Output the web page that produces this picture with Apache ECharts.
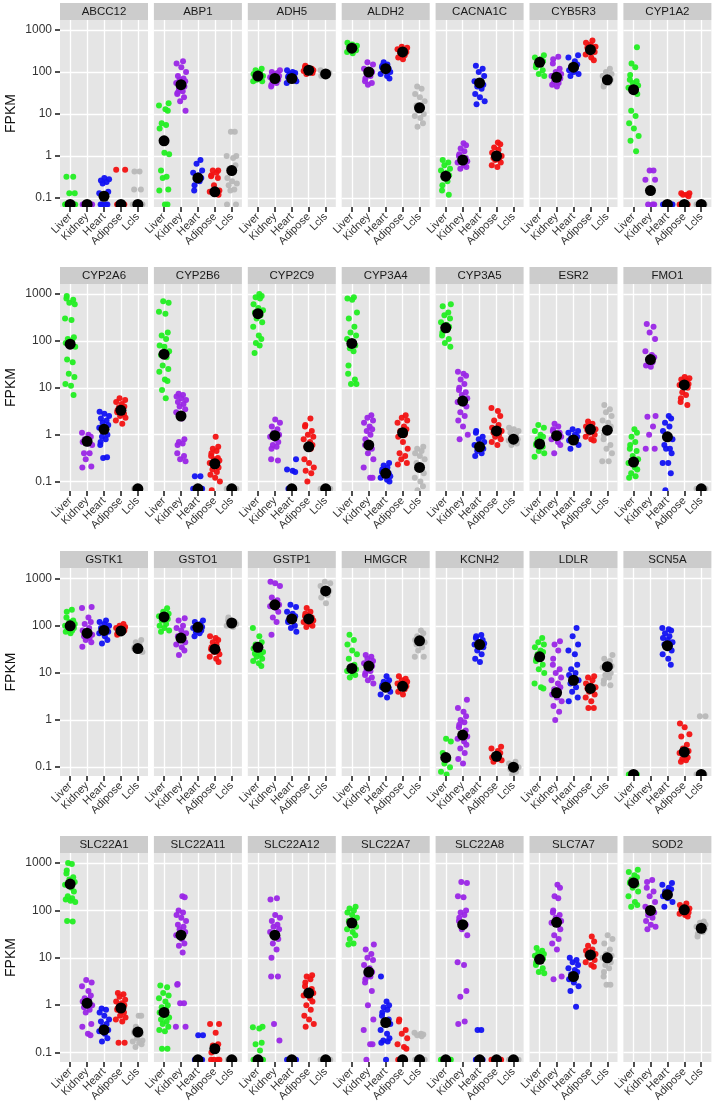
<!DOCTYPE html>
<html>
<head>
<meta charset="utf-8">
<script src="https://cdn.jsdelivr.net/npm/echarts@6/dist/echarts.min.js"></script>
<style>
html,body{margin:0;padding:0;background:#fff;}
#chart{width:713px;height:1110px;}
</style>
</head>
<body>
<div id="chart"></div>
<script>
// ---------------- DATA ----------------
const genes = ['ABCC12','ABP1','ADH5','ALDH2','CACNA1C','CYB5R3','CYP1A2',
  'CYP2A6','CYP2B6','CYP2C9','CYP3A4','CYP3A5','ESR2','FMO1',
  'GSTK1','GSTO1','GSTP1','HMGCR','KCNH2','LDLR','SCN5A',
  'SLC22A1','SLC22A11','SLC22A12','SLC22A7','SLC22A8','SLC7A7','SOD2'];
const tissues = ['Liver','Kidney','Heart','Adipose','Lcls'];
const yTickValues = [0.1, 1, 10, 100, 1000];
const yTickLabels = ['0.1', '1', '10', '100', '1000'];

// FPKM per sample (0 = not detected), one list per gene, gene order as above
const liver = [
  [0.32,0.32,0.13,0.13,0,0,0,0,0,0,0,0],
  [18,16,13,12,6,5.5,4.5,1.2,1.1,0.45,0.32,0.3,0.16,0.15,0,0],
  [120,110,100,90,85,80,75,70,65,60,60],
  [500,450,420,400,380,350,330,300,280],
  [0.8,0.7,0.6,0.5,0.45,0.4,0.35,0.3,0.25,0.2,0.15,0.12],
  [250,220,200,180,170,160,150,130,110,90,80],
  [390,160,130,85,65,60,55,48,42,36,30,12,9,6,4.5,3,2.3,1.3],
  [900,800,750,650,600,300,280,120,110,100,90,80,75,40,35,20,17,12,11,7],
  [700,650,420,380,150,130,110,80,75,60,50,45,30,25,22,15,14,9,6],
  [1000,900,850,800,600,500,450,400,350,300,250,200,130,110,90,80,55],
  [850,800,750,400,300,200,150,130,110,90,80,70,60,30,20,15,12,12],
  [600,550,400,350,300,250,220,200,180,170,150,130,110,90,75],
  [1.6,1.4,1.2,1.0,0.9,0.8,0.7,0.65,0.6,0.55,0.45,0.4,0.34],
  [1.3,1.1,0.9,0.7,0.6,0.5,0.45,0.35,0.3,0.25,0.2,0.18,0.15,0.13,0.12],
  [220,200,150,130,120,110,100,95,90,85,80,75,70],
  [235,200,180,160,150,140,130,110,100,90,80,75],
  [90,60,45,40,35,33,30,28,26,24,22,20,18,16,14],
  [65,50,40,30,25,20,15,13,12,11,10,9,8],
  [0.4,0.35,0.2,0.15,0.12,0.1,0.08,0],
  [55,45,40,35,30,28,25,22,20,18,15,12,10,6,5,4.7],
  [0,0,0,0,0,0],
  [1000,950,700,600,500,450,400,350,300,250,200,180,170,160,150,60,58],
  [2.6,2.4,1.8,1.6,1.4,1.2,1.0,0.9,0.8,0.7,0.6,0.55,0.5,0.45,0.4,0.35,0.3,0.28,0.12,0.12],
  [0.35,0.34,0.32,0.16,0.15,0.11,0,0,0,0,0],
  [120,110,100,90,80,70,60,55,50,45,40,35,30,25,20,19],
  [0,0,0,0,0,0,0,0],
  [16,14,13,12,11,10,9.5,9,8.5,8,7,6,5,4.7],
  [720,650,550,500,450,420,400,380,350,300,250,200,150,130,120]
];
const kidney = [
  [0,0,0,0,0,0,0,0,0,0],
  [180,160,130,100,80,70,65,60,55,50,45,40,35,32,30,25,20,12],
  [110,100,95,90,80,75,70,65,60,55,50,45],
  [170,150,120,110,100,90,80,70,60,55,50],
  [2.0,1.8,1.5,1.3,1.1,1.0,0.9,0.8,0.75,0.7,0.6,0.55,0.5],
  [230,200,160,120,100,90,80,75,70,60,55,50,45],
  [0.45,0.45,0.27,0.27,0.15,0,0,0],
  [1.1,1.0,0.9,0.8,0.75,0.7,0.65,0.6,0.4,0.4,0.3,0.21,0.2],
  [7.5,7,6.5,6,5.5,5,4.5,4,3.5,3,2.2,0.8,0.7,0.65,0.6,0.4,0.35,0.3,0.27],
  [2.1,1.8,1.5,1.3,1.1,1.0,0.9,0.8,0.7,0.6,0.55,0.5,0.3,0.28],
  [2.6,2.3,2.0,1.8,1.5,1.3,1.2,1.0,0.8,0.6,0.5,0.4,0.3,0.2,0.12,0.12],
  [22,20,18,15,12,10,9,8,7,6,5,4.5,4,3,2.5,2,1.5,1,0.8],
  [1.7,1.5,1.3,1.2,1.1,1.0,0.9,0.8,0.7,0.6,0.4],
  [230,200,150,110,60,50,45,40,35,30,28,2.5,2.4,1.5,1.0,0.5,0.5],
  [250,240,150,120,110,90,80,70,65,60,55,50,45,36],
  [145,130,100,90,80,70,60,55,50,45,40,35,30,24],
  [860,800,700,400,350,300,280,260,240,200,150,120,65],
  [24,22,20,18,16,15,14,12,11,10,9,8,7,6],
  [2.7,1.8,1.5,1.2,1.0,0.9,0.8,0.7,0.6,0.5,0.45,0.4,0.35,0.3,0.25,0.2,0.15,0.12],
  [47,40,30,20,15,12,10,8,7,6,5,4.5,4,3.5,3,2.5,2,1.5,1.0],
  [],
  [3.4,3.0,2.5,2.0,1.6,1.4,1.3,1.2,1.1,1.0,0.9,0.8,0.7,0.4,0.35,0.25,0.23],
  [200,190,100,90,80,70,60,50,45,40,35,30,25,20,18,13,2.8,2.7,1.1,1.1,0.35,0.35],
  [180,170,80,70,60,50,45,40,35,30,25,20,15,10,4,4,0.4,0.18],
  [19,15,12,10,9,7,6,5,4.5,4,3.5,3,2,1,0.5,0.3,0.15,0.15,0],
  [400,380,200,190,100,90,80,70,60,50,40,30,8,7,2,1.5,0.45,0.4],
  [350,300,200,180,100,90,80,70,60,55,50,40,30,25,20,15,4,3.5],
  [440,400,300,250,200,150,120,100,90,80,70,60,50,45,40]
];
const heart = [
  [0.3,0.28,0.26,0.24,0.22,0.14,0.13,0.12,0,0,0,0],
  [0.8,0.65,0.45,0.4,0.35,0.3,0.28,0.25,0.2,0.15],
  [110,100,95,90,85,80,75,70,65,60,55],
  [170,150,140,130,120,110,100,90,80,70],
  [140,120,100,80,60,55,50,45,40,30,25,20,17],
  [250,220,180,150,130,120,110,100,90,80],
  [0,0,0,0,0,0],
  [3.1,2.8,2.5,2.2,2.0,1.8,1.6,1.4,1.2,1.0,0.9,0.8,0.7,0.6,0.33,0.32],
  [0.13,0.13,0,0,0,0,0],
  [0.3,0.18,0.17,0.16,0,0,0],
  [0.25,0.22,0.2,0.18,0.16,0.15,0.14,0.13,0.12,0.11,0.1],
  [1.2,1.1,0.9,0.8,0.7,0.6,0.55,0.5,0.45,0.4,0.35],
  [1.3,1.2,1.1,1.0,0.9,0.85,0.8,0.75,0.7,0.6,0.5],
  [2.5,2.2,1.8,1.5,1.2,1.0,0.8,0.6,0.5,0.5,0.4,0.25,0.25,0.15,0.065],
  [130,120,110,100,90,85,80,75,70,60,50,42],
  [130,120,110,100,95,90,85,80,75,70,60],
  [280,250,200,180,160,150,140,130,120,100,90,75],
  [8.5,7,6.5,6,5.5,5,4.8,4.5,4,3.5,3],
  [64,60,55,50,45,42,40,38,35,30,25,20,17],
  [90,60,40,30,25,15,12,10,9,8,7,6,5,4,3,2.5],
  [90,85,80,70,60,55,50,45,40,38,35,30,25,20,15],
  [0.85,0.8,0.7,0.6,0.5,0.45,0.4,0.35,0.3,0.28,0.25,0.2,0.17],
  [0.23,0.23,0,0,0,0],
  [0,0,0,0,0],
  [4,1.2,1.0,0.9,0.8,0.7,0.6,0.5,0.45,0.4,0.3,0.25,0.2,0.18,0.17,0.16,0],
  [0.3,0.3,0,0,0,0],
  [10,9,8,7,6,5.5,5,4.5,4,3.5,3,2.5,2,0.93],
  [380,350,300,280,250,220,200,180,150,120]
];
const adipose = [
  [0.47,0.47,0,0,0,0,0,0],
  [0.45,0.45,0.4,0.35,0.33,0.3,0.2,0.15,0.14,0.13,0.12],
  [140,130,120,115,110,105,100,95,90],
  [400,380,350,320,300,280,250,220,200],
  [2.1,1.9,1.6,1.4,1.2,1.1,1.0,0.9,0.85,0.8,0.7,0.6,0.55],
  [560,500,450,400,380,350,330,300,260,220,190],
  [0.13,0.13,0.12,0.12,0.11,0,0,0,0],
  [6,5.5,5,4.5,4,3.8,3.5,3.3,3.0,2.8,2.5,2.3,2.0,1.7],
  [0.9,0.55,0.5,0.45,0.4,0.35,0.32,0.3,0.28,0.25,0.22,0.2,0.18,0.16,0.14,0.12,0.1,0.065],
  [2.2,1.6,1.5,1.2,1.0,0.9,0.8,0.7,0.6,0.55,0.5,0.3,0.25,0.2,0.17,0.15,0.1],
  [2.6,2.3,2.0,1.8,1.5,1.3,1.2,1.0,0.9,0.7,0.5,0.4,0.35,0.3,0.25,0.23],
  [3.7,3.2,2.5,2.0,1.6,1.4,1.3,1.2,1.1,1.0,0.9,0.8,0.7,0.6],
  [1.9,1.7,1.5,1.4,1.3,1.25,1.2,1.1,1.0,0.9,0.8,0.75],
  [17,16,15,14,13,12,11.5,11,10,8,7,6,5,4.3],
  [110,100,95,90,85,80,78,75,70,65],
  [60,55,50,45,40,35,32,30,28,25,22,20,17],
  [240,200,180,160,150,140,130,120,110,100,95],
  [8.5,7.5,7,6.5,6,5.5,5.2,5,4.5,4,3.5],
  [0.27,0.25,0.22,0.2,0.18,0.17,0.16,0.15,0.14,0.13],
  [8.5,8,7,6,5.5,5,4.7,4.5,4,3.5,3,2.5,1.8,1.8],
  [0.85,0.7,0.5,0.45,0.3,0.25,0.22,0.2,0.18,0.16,0.15,0.14,0.13],
  [1.8,1.7,1.5,1.3,1.2,1.1,1.0,0.95,0.9,0.85,0.8,0.7,0.6,0.55,0.5,0.45,0.16,0.16],
  [0.4,0.4,0.26,0.15,0.14,0.12,0.1,0,0,0,0],
  [4.3,4.0,3.5,3.0,2.5,2.2,2.0,1.8,1.6,1.4,1.2,1.0,0.8,0.6,0.5,0.4,0.35],
  [0.5,0.45,0.3,0.25,0.2,0.15,0.13,0.12,0,0,0],
  [0,0,0,0,0,0],
  [28,22,18,15,14,13,12,11.5,11,10,9,8,7,6.5],
  [140,130,120,110,105,100,95,90,85,80,74]
];
const lcls = [
  [0.43,0.43,0.16,0.16,0,0,0,0,0],
  [3.8,3.8,1.0,1.0,0.9,0.6,0.5,0.45,0.3,0.25,0.22,0.2,0.16,0.15,0,0],
  [110,100,95,90,85,80],
  [45,40,30,25,20,16,14,12,10,9,8,6,5],
  [],
  [120,100,90,80,70,65,60,55,50,45],
  [0,0,0,0,0,0],
  [0,0,0,0],
  [0,0,0,0,0],
  [0,0,0,0],
  [0.55,0.5,0.45,0.4,0.35,0.3,0.25,0.2,0.18,0.15,0.12,0.1,0.08,0.065],
  [1.4,1.3,1.2,1.1,1.0,0.9,0.8,0.75,0.7,0.65,0.6],
  [4.3,3.5,3,2.5,2.0,1.8,1.5,1.3,1.2,1.0,0.8,0.6,0.5,0.4,0.27,0.27],
  [0,0,0,0],
  [50,45,40,35,33,32,30,28],
  [150,130,120,115,110,100,95],
  [860,800,700,600,550,500,450,400,300],
  [80,70,60,55,50,48,45,40,35,30,22,22],
  [0.13,0.12,0.11,0.1,0.09,0.08,0.07],
  [24,20,18,15,14,13,12,10,9,8,7,6,5.5],
  [1.2,1.2,0,0,0,0],
  [0.6,0.6,0.35,0.3,0.28,0.26,0.25,0.2,0.18,0.17,0.16,0.15,0.13],
  [0,0,0,0,0],
  [0,0,0,0,0],
  [0.26,0.25,0.24,0.23,0.22,0,0,0],
  [0,0,0,0,0],
  [30,25,20,15,12,11,10,9,8,7,6,5,4,2.7,2.7],
  [58,55,50,45,42,40,38,35,32,28]
];
// medians per gene: [Liver, Kidney, Heart, Adipose, Lcls]  (null = no samples)
const medians = [
  [0,0,0.11,0,0],
  [2.3,50,0.3,0.14,0.45],
  [80,70,70,110,90],
  [370,100,120,300,14],
  [0.33,0.8,55,1.0,null],
  [170,75,130,340,65],
  [38,0.15,0,0,0],
  [85,0.72,1.3,3.3,0],
  [52,2.5,0,0.24,0],
  [380,0.95,0,0.55,0],
  [88,0.6,0.15,1.1,0.2],
  [190,5.2,0.55,1.2,0.8],
  [0.63,0.95,0.77,1.3,1.25],
  [0.26,40,0.9,11.5,0],
  [100,70,80,78,33],
  [155,55,93,32,115],
  [35,280,140,140,550],
  [12.5,14,5,5.2,48],
  [0.16,0.48,40,0.17,0.1],
  [22,3.8,7,4.7,13.6],
  [0,null,38,0.21,0],
  [360,1.1,0.3,0.87,0.27],
  [0.7,30,0,0.12,0],
  [0,30,0,1.8,0],
  [54,5,0.43,0,0],
  [0,50,0,0,0],
  [9.3,56,4,11.5,10],
  [380,100,215,103,42]
];

// ---------------- STYLE / LAYOUT ----------------
const ZERO_FLOOR = 0.07;  // where undetected (0 FPKM) samples sit on the log axis
const jitterOffsets = [-0.22,0.18,-0.05,0.27,-0.3,0.08,0.22,-0.14,0.12,-0.26,0.02,0.3,-0.18,0.15,-0.08,0.25,-0.28,0.05,0.2,-0.12,0.1,-0.2];
const colors = ['#22EE22','#9A26E6','#1212F2','#F21212','#B8B8B8','#000000'];
const FONT = '"Liberation Sans", Arial, Helvetica, sans-serif';
const PANEL_LEFT = 60, PANEL_PITCH = 93.9, PANEL_W = 88, NCOL = 7;
const rowsLayout = [
  {strip: 3,   top: 20,  bottom: 207,  min: 0.061, max: 1730},
  {strip: 267, top: 284, bottom: 491,  min: 0.063, max: 1630},
  {strip: 551, top: 568, bottom: 776,  min: 0.065, max: 1690},
  {strip: 836, top: 853, bottom: 1062, min: 0.063, max: 1630}
];
const tissueData = [liver, kidney, heart, adipose, lcls];

const grids = [], xAxes = [], yAxes = [], series = [], graphics = [];
const yLabelFmt = v => {
  const i = yTickValues.findIndex(t => Math.abs(Math.log10(t) - Math.log10(v)) < 1e-6);
  return i >= 0 ? yTickLabels[i] : '';
};

genes.forEach((gene, gi) => {
  const r = Math.floor(gi / NCOL), c = gi % NCOL;
  const L = rowsLayout[r];
  const left = PANEL_LEFT + c * PANEL_PITCH;
  grids.push({left: left, top: L.top, width: PANEL_W, height: L.bottom - L.top,
    show: true, backgroundColor: '#E5E5E5', borderWidth: 0, containLabel: false});
  xAxes.push({
    gridIndex: gi, type: 'value', min: 0.4, max: 5.6,
    axisLine: {show: false},
    axisTick: {show: true, customValues: [1,2,3,4,5], length: 5, lineStyle: {color: '#222', width: 1.6}},
    axisLabel: {show: true, customValues: [1,2,3,4,5], formatter: v => tissues[Math.round(v) - 1] || '',
      rotate: 45, fontSize: 11, color: '#333', margin: 8, fontFamily: FONT},
    splitLine: {show: true, lineStyle: {color: '#FFFFFF', width: 1.3}}
  });
  yAxes.push({
    gridIndex: gi, type: 'log', logBase: 10, min: L.min, max: L.max,
    axisLine: {show: false},
    axisTick: {show: c === 0, customValues: yTickValues, length: 5, lineStyle: {color: '#222', width: 1.6}},
    axisLabel: {show: c === 0, customValues: yTickValues, formatter: yLabelFmt, fontSize: 12, color: '#333', margin: 8, fontFamily: FONT},
    splitLine: {show: true, lineStyle: {color: '#FFFFFF', width: 1.3}},
    name: c === 0 ? 'FPKM' : '', nameLocation: 'middle', nameGap: 42,
    nameTextStyle: {fontSize: 14, color: '#111', fontFamily: FONT}
  });
  const pts = [];
  tissueData.forEach((arr, ti) => {
    (arr[gi] || []).forEach((v, k) => {
      const j = jitterOffsets[(k + ti * 5 + gi * 3) % jitterOffsets.length];
      pts.push([ti + 1 + j, v > 0 ? v : ZERO_FLOOR, ti]);
    });
  });
  medians[gi].forEach((m, ti) => {
    if (m === null) return;
    pts.push([ti + 1, m > 0 ? m : ZERO_FLOOR, 5]);
  });
  series.push({
    type: 'custom', xAxisIndex: gi, yAxisIndex: gi, clip: true, silent: true,
    animation: false,
    dimensions: ['x', 'y', 'kind'], encode: {x: 0, y: 1},
    data: pts,
    renderItem: (params, api) => {
      const kind = api.value(2);
      const p = api.coord([api.value(0), api.value(1)]);
      return {type: 'circle', shape: {cx: p[0], cy: p[1], r: kind === 5 ? 5.5 : 3},
        style: {fill: colors[kind], opacity: kind === 5 ? 1 : 0.95}};
    }
  });
  graphics.push({type: 'rect', left: left, top: L.strip, silent: true,
    shape: {width: PANEL_W, height: L.top - L.strip}, style: {fill: '#CCCCCC'}});
  graphics.push({type: 'text', x: left + PANEL_W / 2, y: (L.strip + L.top) / 2 + 0.5, silent: true,
    style: {text: gene, fill: '#1A1A1A', font: '11.5px ' + FONT, textAlign: 'center', textVerticalAlign: 'middle',
      align: 'center', verticalAlign: 'middle'}});
});

const chart = echarts.init(document.getElementById('chart'), null, {renderer: 'canvas'});
chart.setOption({
  animation: false,
  backgroundColor: '#FFFFFF',
  grid: grids, xAxis: xAxes, yAxis: yAxes, series: series,
  graphic: graphics
});
</script>
</body>
</html>
